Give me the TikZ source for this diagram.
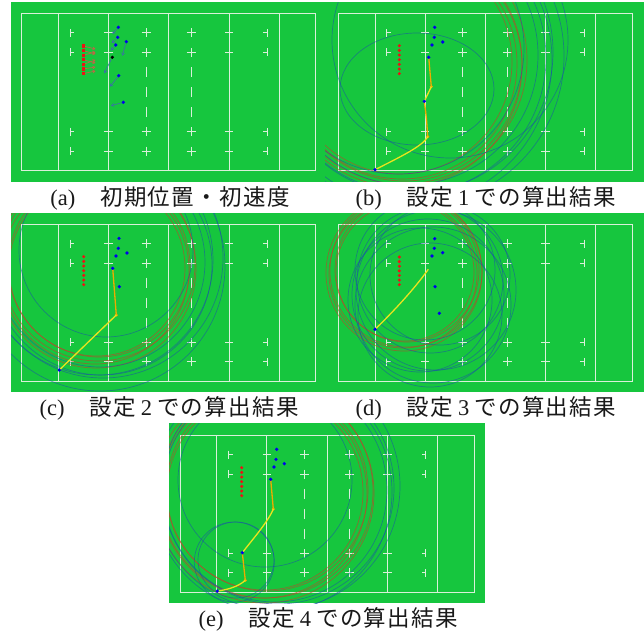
\documentclass[tikz,border=0pt]{standalone}
\usepackage{fontspec}
\setmainfont{Liberation Serif}
\newfontfamily\cjk[LetterSpace=6]{Noto Sans CJK JP}
\usetikzlibrary{arrows.meta}
\definecolor{pitch}{RGB}{22,198,62}
\definecolor{fieldc}{RGB}{218,240,218}
\definecolor{ringblue}{RGB}{25,80,170}
\definecolor{ringbrown}{RGB}{200,60,40}
\definecolor{pathyellow}{RGB}{232,228,30}
\definecolor{pathorange}{RGB}{236,172,0}
\definecolor{dotblue}{RGB}{0,0,235}
\definecolor{dotred}{RGB}{235,20,20}
\definecolor{velred}{RGB}{195,100,70}
\definecolor{velblue}{RGB}{60,110,170}
\definecolor{captext}{RGB}{25,25,25}
\tikzset{
  fieldline/.style={draw=fieldc, line width=1pt},
  bluering/.style={draw=ringblue, draw opacity=0.55, line width=0.7pt},
  brownring/.style={draw=ringbrown, draw opacity=0.6, line width=0.7pt},
  pathy/.style={draw=pathyellow, line width=1.3pt},
  patho/.style={draw=pathorange, line width=1.3pt},
  bdot/.style={circle, fill=dotblue, inner sep=0pt, minimum size=3.6pt},
  kdot/.style={circle, fill=black, inner sep=0pt, minimum size=3.6pt},
  rdot/.style={circle, fill=dotred, inner sep=0pt, minimum size=3.4pt},
  rsq/.style={rectangle, fill=dotred, inner sep=0pt, minimum size=3.2pt},
  odot/.style={circle, fill=pathorange, inner sep=0pt, minimum size=3.4pt},
  velr/.style={draw=velred, draw opacity=0.9, line width=0.7pt, -{Straight Barb[length=2.2pt,width=3pt]}},
  velb/.style={draw=velblue, draw opacity=0.9, line width=0.7pt, -{Straight Barb[length=2.4pt,width=3pt]}},
  captxt/.style={text=captext, anchor=base, inner sep=0pt, font=\fontsize{22.5pt}{26pt}\selectfont}
}
\newcommand{\rugbyfield}[2]{%
\begin{scope}[shift={(#1,#2)}]
  \draw[fieldline] (0,0) rectangle (294,157.4);
  \foreach \xx in {36.7,86.7,147,207.3,257.3} \draw[fieldline] (\xx,0) -- (\xx,157.4);
  \foreach \yy in {19.5,39,118.4,137.9} {
    \draw[fieldline] (48.3,\yy-4) -- (48.3,\yy+4) (48.3,\yy) -- (52.5,\yy);
    \draw[fieldline] (245.7,\yy-4) -- (245.7,\yy+4) (245.7,\yy) -- (241.5,\yy);
    \draw[fieldline] (82.5,\yy) -- (90.9,\yy) (203.1,\yy) -- (211.5,\yy);
    \foreach \xx in {124.5,169.5} \draw[fieldline] (\xx-4.5,\yy) -- (\xx+4.5,\yy) (\xx,\yy-4.5) -- (\xx,\yy+4.5);
  }
  \foreach \yy in {58.7,78.7,98.7} \foreach \xx in {124.5,169.5} \draw[fieldline] (\xx,\yy-5) -- (\xx,\yy+5);
\end{scope}}
\begin{document}
\begin{tikzpicture}[x=1pt,y=-1pt]
\useasboundingbox (0,0) rectangle (644,637);
\fill[white] (0,0) rectangle (644,637);
% green backgrounds
\fill[pitch] (11,2) rectangle (643.5,181.7);
\fill[pitch] (11,213.3) rectangle (643.5,391.7);
\fill[pitch] (169,423.3) rectangle (485,603.3);
% fields
\rugbyfield{21.7}{13.3}
\rugbyfield{338.3}{13.3}
\rugbyfield{21.7}{224}
\rugbyfield{338.3}{224}
\rugbyfield{180}{435}

% ---------- (a) ----------
\foreach \i/\yy/\ty in {0/46/49, 1/50.6/54, 2/55.2/52, 3/59.8/63, 4/64.4/60, 5/69/67, 6/73.6/71} {
  \node[rsq] (ra\i) at (83.3,\yy) {};
  \coordinate (rt\i) at (95.5,\ty);
  \draw[velr] (ra\i) -- (rt\i);
}
\node[bdot] (a1) at (118.3,27.3) {};
\node[bdot] (a2) at (117.7,37.3) {};
\node[bdot] (a3) at (115.7,45) {};
\node[bdot] (a4) at (126.3,41.7) {};
\node[kdot] (a5) at (112.3,57.3) {};
\node[bdot] (a6) at (118.7,75.7) {};
\node[bdot] (a7) at (123.3,102.3) {};
\coordinate (at1) at (112.3,34);
\coordinate (at2) at (111.7,43.3);
\coordinate (at3) at (110.7,50.7);
\coordinate (at4) at (122.3,55.7);
\coordinate (at5) at (104.3,73.3);
\coordinate (at6) at (110,86.7);
\coordinate (at7) at (111,105.7);
\foreach \k in {1,...,7} \draw[velb] (a\k) -- (at\k);

% ---------- (b) ----------
\begin{scope}
  \clip (325,2) rectangle (643.5,181.7);
  \foreach \cx/\cy/\r in {400/62/112, 402/64/115, 404/63/118, 401/66/121, 403/60/124}
    \draw[brownring] (\cx,\cy) circle[radius=\r];
  \foreach \cx/\cy/\r in {408/55/130, 410/58/136, 412/52/141, 406/60/146, 414/56/150, 398/48/126, 450/40/118}
    \draw[bluering] (\cx,\cy) circle[radius=\r];
  \draw[bluering] (417,89) ellipse[x radius=77, y radius=56];
\end{scope}
\foreach \i in {0,...,6} \node[rdot] (rb\i) at (399.3,45.7+4.67*\i) {};
\node[bdot] (b1) at (434.7,27.3) {};
\node[bdot] (b2) at (434.3,37.3) {};
\node[bdot] (b3) at (432,45) {};
\node[bdot] (b4) at (442.7,42) {};
\node[odot] (bo1) at (431.3,86.7) {};
\node[odot] (bo2) at (427.7,136.7) {};
\draw[patho] (428.7,57.3) .. controls (430,72) .. (bo1.center);
\draw[pathy] (bo1.center) .. controls (428,94) .. (424.3,101.3);
\draw[patho] (424.3,101.3) .. controls (426.5,118) .. (bo2.center);
\draw[pathy] (bo2.center) .. controls (423,146) and (400,157) .. (375,169.7);
\node[bdot] (b5) at (428.7,57.3) {};
\node[bdot] (b6) at (424.3,101.3) {};
\node[bdot] (b7) at (375,169.7) {};

% ---------- (c) ----------
\begin{scope}
  \clip (11,213.3) rectangle (325,391.7);
  \foreach \cx/\cy/\r in {97/268/88, 99/266/91, 95/270/94, 98/264/97, 96/268/100}
    \draw[brownring] (\cx,\cy) circle[radius=\r];
  \foreach \cx/\cy/\r in {100/262/105, 102/265/110, 98/260/115, 103/258/120, 100/266/125, 106/250/87}
    \draw[bluering] (\cx,\cy) circle[radius=\r];
\end{scope}
\foreach \i in {0,...,6} \node[rdot] (rc\i) at (83.7,256.7+4.67*\i) {};
\node[bdot] (c1) at (119,238.3) {};
\node[bdot] (c2) at (118.3,248.3) {};
\node[bdot] (c3) at (127,253) {};
\node[bdot] (c4) at (116,256) {};
\node[bdot] (c6) at (119.3,286.7) {};
\node[odot] (co1) at (116.3,315) {};
\draw[patho] (112.7,268.3) -- (co1.center);
\draw[pathy] (co1.center) -- (59.3,370);
\node[bdot] (c5) at (112.7,268.3) {};
\node[bdot] (c7) at (59.3,370) {};

% ---------- (d) ----------
\begin{scope}
  \clip (325,213.3) rectangle (643.5,391.7);
  \foreach \cx/\cy/\r in {405/272/69, 407/270/72, 403/274/74, 406/271/76, 404/273/78}
    \draw[brownring] (\cx,\cy) circle[radius=\r];
  \foreach \cx/\cy/\r in {425/270/70, 430/280/73, 428/295/76, 433/305/78, 436/290/80, 420/300/72, 440/275/70, 430/315/72}
    \draw[bluering] (\cx,\cy) circle[radius=\r];
\end{scope}
\foreach \i in {0,...,6} \node[rdot] (rd\i) at (399.3,257+4.62*\i) {};
\node[bdot] (d1) at (434.7,238.7) {};
\node[bdot] (d2) at (434.3,248.3) {};
\node[bdot] (d3) at (442.7,252.7) {};
\node[bdot] (d4) at (432,256) {};
\node[bdot] (d5) at (435,286.7) {};
\node[bdot] (d6) at (439.3,313.3) {};
\coordinate (ds) at (428.3,269.3);
\draw[pathy] (ds) .. controls (415,288) and (395,310) .. (375,329.3);
\node[bdot] (d7) at (375,329.3) {};

% ---------- (e) ----------
\begin{scope}
  \clip (169,423.3) rectangle (485,603.3);
  \foreach \cx/\cy/\r in {265/492/98, 267/490/101, 263/494/104, 266/491/107, 264/493/110}
    \draw[brownring] (\cx,\cy) circle[radius=\r];
  \foreach \cx/\cy/\r in {275/490/112, 278/488/116, 272/492/120, 276/486/124, 265/480/87, 234.3/562/40, 236/560/38}
    \draw[bluering] (\cx,\cy) circle[radius=\r];
\end{scope}
\foreach \i in {0,...,6} \node[rdot] (re\i) at (241.7,467.7+4.67*\i) {};
\node[bdot] (e1) at (276.7,449.3) {};
\node[bdot] (e2) at (276,459.3) {};
\node[bdot] (e3) at (284.3,463.7) {};
\node[bdot] (e4) at (274,467) {};
\node[odot] (eo1) at (273.3,509) {};
\node[odot] (eo2) at (245.3,580.3) {};
\draw[patho] (270.7,479.3) .. controls (272,495) .. (eo1.center);
\draw[pathy] (eo1.center) .. controls (268,522) and (252,540) .. (242.3,552.7);
\draw[patho] (242.3,552.7) .. controls (244,567) .. (eo2.center);
\draw[pathy] (eo2.center) .. controls (238,587) and (226,590) .. (217.3,591);
\node[bdot] (e5) at (270.7,479.3) {};
\node[bdot] (e6) at (242.3,552.7) {};
\node[bdot] (e7) at (217.3,591) {};

% ---------- captions ----------
\node[captxt] (capA) at (170,205) {(a)\hspace{25pt}{\cjk 初期位置・初速度}};
\node[captxt] (capB) at (485.8,205) {(b)\hspace{25pt}{\cjk 設定}\hspace{5pt}1\hspace{5pt}{\cjk での算出結果}};
\node[captxt] (capC) at (169.2,415) {(c)\hspace{25pt}{\cjk 設定}\hspace{5pt}2\hspace{5pt}{\cjk での算出結果}};
\node[captxt] (capD) at (485.8,415) {(d)\hspace{25pt}{\cjk 設定}\hspace{5pt}3\hspace{5pt}{\cjk での算出結果}};
\node[captxt] (capE) at (328.3,626) {(e)\hspace{25pt}{\cjk 設定}\hspace{5pt}4\hspace{5pt}{\cjk での算出結果}};
\end{tikzpicture}
\end{document}
